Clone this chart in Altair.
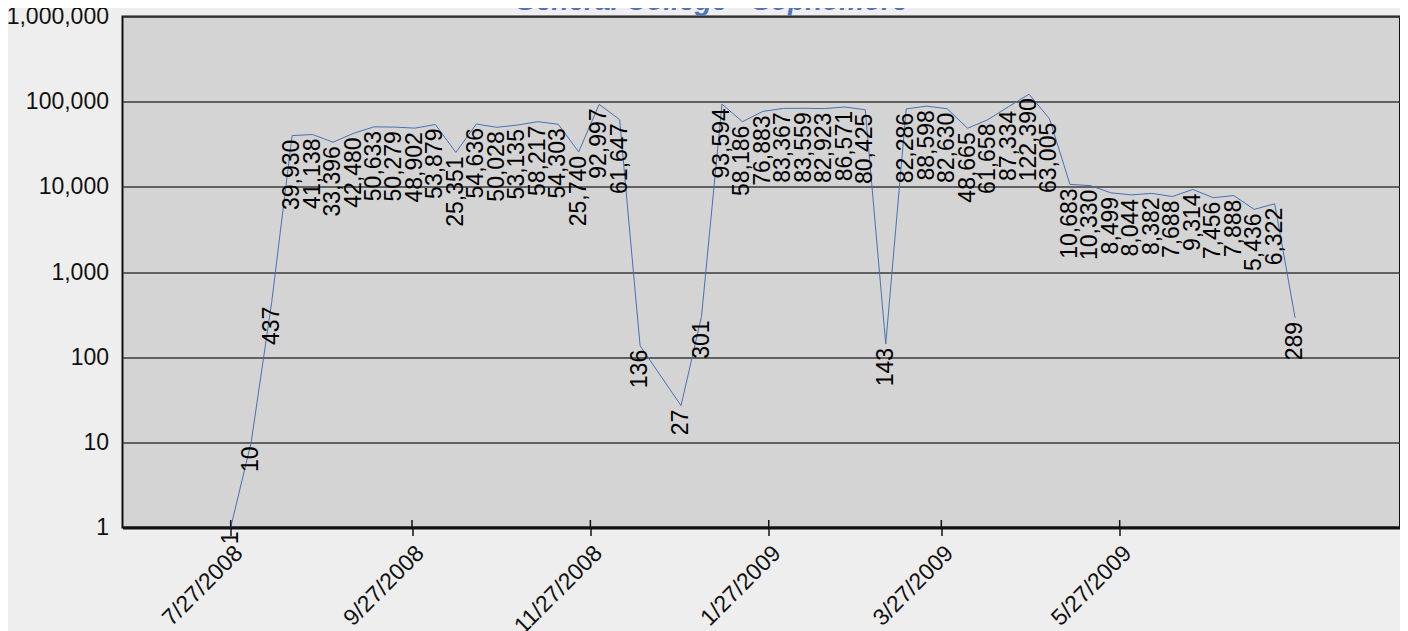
import altair as alt
import pandas as pd

# ---- data ----
dates = [
    "2008-07-27", "2008-08-03", "2008-08-10", "2008-08-17", "2008-08-24", "2008-08-31",
    "2008-09-07", "2008-09-14", "2008-09-21", "2008-09-28", "2008-10-05", "2008-10-12",
    "2008-10-19", "2008-10-26", "2008-11-02", "2008-11-09", "2008-11-16", "2008-11-23",
    "2008-11-30", "2008-12-07", "2008-12-14", "2008-12-28", "2009-01-04", "2009-01-11",
    "2009-01-18", "2009-01-25", "2009-02-01", "2009-02-08", "2009-02-15", "2009-02-22",
    "2009-03-01", "2009-03-08", "2009-03-15", "2009-03-22", "2009-03-29", "2009-04-05",
    "2009-04-12", "2009-04-19", "2009-04-26", "2009-05-03", "2009-05-10", "2009-05-17",
    "2009-05-24", "2009-05-31", "2009-06-07", "2009-06-14", "2009-06-21", "2009-06-28",
    "2009-07-05", "2009-07-12", "2009-07-19", "2009-07-26",
]
values = [
    1, 10, 437, 39930, 41138, 33396, 42480, 50633, 50279, 48902,
    53879, 25351, 54636, 50028, 53135, 58217, 54303, 25740, 92997, 61647,
    136, 27, 301, 93594, 58186, 76883, 83367, 83559, 82923, 86571,
    80425, 143, 82286, 88598, 82630, 48665, 61658, 87334, 122390, 63005,
    10683, 10330, 8499, 8044, 8382, 7688, 9314, 7456, 7888, 5436,
    6322, 289,
]
tick_dates = ["2008-07-27", "2008-09-27", "2008-11-27", "2009-01-27", "2009-03-27", "2009-05-27"]
y_ticks = [1, 10, 100, 1000, 10000, 100000, 1000000]
title_text = "General College - Sophomore"

FONT = "Liberation Sans"
W, H = 1277.5, 511

x_lo = alt.DateTime(year=2008, month=6, date=20, utc=True)
x_hi = alt.DateTime(year=2009, month=8, date=30, hours=20, minutes=40, utc=True)


def dt(s):
    y, m, d = (int(p) for p in s.split("-"))
    return alt.DateTime(year=y, month=m, date=d, utc=True)


df = pd.DataFrame({"date": dates, "value": values})
df["label"] = [f"{v:,}" for v in values]

x_enc = alt.X(
    "date:T",
    title=None,
    scale=alt.Scale(type="utc", domain=[x_lo, x_hi], nice=False),
    axis=alt.Axis(
        values=[dt(s) for s in tick_dates],
        labelExpr="utcFormat(datum.value, '%-m/%-d/%Y')",
        labelAngle=-45,
        labelAlign="right",
        labelBaseline="top",
        labelFont=FONT,
        labelFontSize=23,
        labelColor="#111111",
        labelPadding=6,
        labelOverlap=False,
        labelFlush=False,
        tickSize=8,
        tickColor="#111111",
        tickWidth=1.5,
        domainColor="#111111",
        domainWidth=3,
        grid=False,
    ),
)
y_enc = alt.Y(
    "value:Q",
    title=None,
    scale=alt.Scale(type="log", domain=[1, 1000000], nice=False),
    axis=alt.Axis(
        values=y_ticks,
        labelExpr="format(datum.value, ',')",
        ticks=False,
        domain=False,
        grid=True,
        gridColor="#3a3a3a",
        gridWidth=1.5,
        labelFont=FONT,
        labelFontSize=23,
        labelColor="#111111",
        labelPadding=14,
    ),
)

base = alt.Chart(df).encode(x=x_enc, y=y_enc)

line = base.mark_line(color="#4672b4", strokeWidth=1)
labels = base.mark_text(
    angle=270, align="right", baseline="middle", dx=-4,
    font=FONT, fontSize=23, color="#000000",
).encode(text="label:N")

inner_ticks = alt.Chart(pd.DataFrame({"date": tick_dates})).mark_rule(
    color="#111111", strokeWidth=1.5
).encode(x=alt.X("date:T"), y=alt.value(H - 7.5), y2=alt.value(H))

title = alt.Chart(pd.DataFrame({"t": [title_text]})).mark_text(
    font=FONT, fontSize=28, fontWeight="bold", fontStyle="italic",
    color="#5374b2", align="center", baseline="alphabetic",
).encode(text="t:N", x=alt.value(588.5), y=alt.value(-6.5))

chart = (
    alt.layer(line, labels, inner_ticks, title)
    .properties(
        width=W,
        height=H,
        autosize=alt.AutoSizeParams(type="none"),
        padding={"left": 114.5, "top": 8.5, "right": 0, "bottom": 103.5},
        background="#eeeeee",
    )
    .configure_view(fill="#d4d4d4", stroke="#111111", strokeWidth=2)
)

chart.save("out.html", embed_options={"renderer": "svg", "actions": False})
